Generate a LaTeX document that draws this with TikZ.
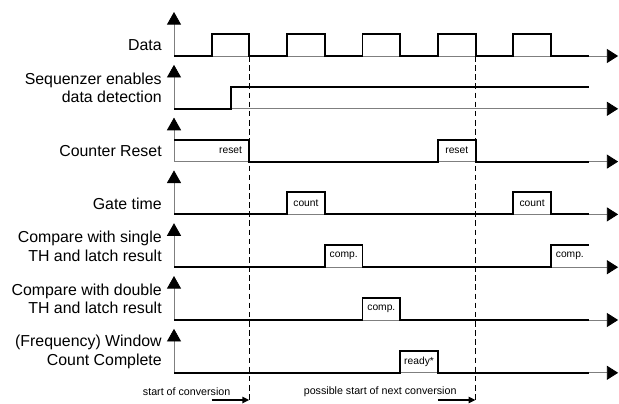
\documentclass[tikz,border=0pt]{standalone}
\usepackage{fontspec}
\setsansfont{Liberation Sans}
\usepackage{tikz}
\usetikzlibrary{
  arrows.meta,
  positioning,
  calc
}
\definecolor{AxisGray}{HTML}{7F7F7F}
\tikzset{
  % Signal name left of each row
  sname/.style={
    anchor=east, align=right, inner sep=0pt,
    font=\sffamily\fontsize{11.3}{13}\selectfont
  },
  % Text inside a pulse
  ptxt/.style={inner sep=0pt, font=\sffamily\fontsize{7.3}{8}\selectfont},
  % Note below the last row
  note/.style={anchor=east, inner sep=0pt, font=\sffamily\fontsize{7.6}{9}\selectfont},
  % Value axis (up)
  vax/.style={
    draw=AxisGray, line width=0.6pt,
    -{Triangle[length=9pt,width=10pt,black]}
  },
  % Time axis (right)
  tax/.style={
    draw=AxisGray, line width=0.6pt,
    -{Triangle[length=8pt,width=10pt,black]}
  },
  % Waveform
  wave/.style={draw=black, line width=1.4pt},
  % Conversion marker line
  convline/.style={draw=black, line width=0.6pt, dash pattern=on 4pt off 2.5pt},
  % Conversion arrow
  convarr/.style={-{Triangle[length=5pt,width=4.5pt]}, line width=1.2pt}
}

\begin{document}
\begin{tikzpicture}[x=0.9425cm, y=1cm]
  \useasboundingbox (-4.35cm,1.4cm) rectangle (11.125cm,-8.675cm);

  % Axes of all rows
  \foreach \r in {0,...,6}{
    \coordinate (o\r) at (0,{-1.32*\r});
    \draw[vax] (o\r) -- ++(0,1.1);
    \draw[tax] (o\r) -- ++(11.78,0);
  }

  % Signal names
  \node[sname] (nData)  at ([xshift=-0.3cm,yshift=0.275cm]o0) {Data};
  \node[sname] (nSeq)   at ([xshift=-0.3cm,yshift=0.525cm]o1) {Sequenzer enables\\data detection};
  \node[sname] (nReset) at ([xshift=-0.3cm,yshift=0.275cm]o2) {Counter Reset};
  \node[sname] (nGate)  at ([xshift=-0.3cm,yshift=0.275cm]o3) {Gate time};
  \node[sname] (nCmpS)  at ([xshift=-0.3cm,yshift=0.525cm]o4) {Compare with single\\TH and latch result};
  \node[sname] (nCmpD)  at ([xshift=-0.3cm,yshift=0.525cm]o5) {Compare with double\\TH and latch result};
  \node[sname] (nWin)   at ([xshift=-0.3cm,yshift=0.525cm]o6) {(Frequency) Window\\Count Complete};

  % Data
  \draw[wave] (0,0) foreach \k in {1,3,5,7,9}{ -- (\k,0) -- (\k,0.55) -- (\k+1,0.55) -- (\k+1,0) } -- (11,0);

  % Sequencer
  \draw[wave] (0,-1.32) -- (1.5,-1.32) -- (1.5,-0.77) -- (11,-0.77);

  % Counter reset
  \draw[wave] (0,-2.09) -- (2,-2.09) -- (2,-2.64) -- (7,-2.64) -- (7,-2.09)
    -- (8,-2.09) -- (8,-2.64) -- (11,-2.64);
  \node[ptxt] (tReset1) at (1.5,-2.365) {reset};
  \node[ptxt] (tReset2) at (7.5,-2.365) {reset};

  % Gate time
  \draw[wave] (0,-3.96) -- (3,-3.96) -- (3,-3.41) -- (4,-3.41) -- (4,-3.96)
    -- (9,-3.96) -- (9,-3.41) -- (10,-3.41) -- (10,-3.96) -- (11,-3.96);
  \node[ptxt] (tCount1) at (3.5,-3.685) {count};
  \node[ptxt] (tCount2) at (9.5,-3.685) {count};

  % Compare single
  \draw[wave] (0,-5.28) -- (4,-5.28) -- (4,-4.73) -- (5,-4.73) -- (5,-5.28)
    -- (10,-5.28) -- (10,-4.73) -- (11,-4.73);
  \node[ptxt] (tCmpS1) at (4.5,-5.005) {comp.};
  \node[ptxt] (tCmpS2) at (10.5,-5.005) {comp.};

  % Compare double
  \draw[wave] (0,-6.60) -- (5,-6.60) -- (5,-6.05) -- (6,-6.05) -- (6,-6.60) -- (11,-6.60);
  \node[ptxt] (tCmpD) at (5.5,-6.325) {comp.};

  % Window count complete
  \draw[wave] (0,-7.92) -- (6,-7.92) -- (6,-7.37) -- (7,-7.37) -- (7,-7.92) -- (11,-7.92);
  \node[ptxt] (tReady) at (6.5,-7.645) {ready*};

  % Conversion markers
  \coordinate (conv1) at (2,0);
  \coordinate (conv2) at (8,0);
  \draw[convline] (conv1) -- ++(0,-8.675);
  \draw[convline] (conv2) -- ++(0,-8.675);

  \coordinate (a1) at (1,-8.6);
  \coordinate (a2) at (7,-8.6);
  \draw[convarr] (a1) -- (conv1 |- a1);
  \draw[convarr] (a2) -- (conv2 |- a2);
  \node[note] (nStart) at (1.5,-8.4) {start of conversion};
  \node[note] (nNext)  at (7.5,-8.4) {possible start of next conversion};

\end{tikzpicture}
\end{document}
